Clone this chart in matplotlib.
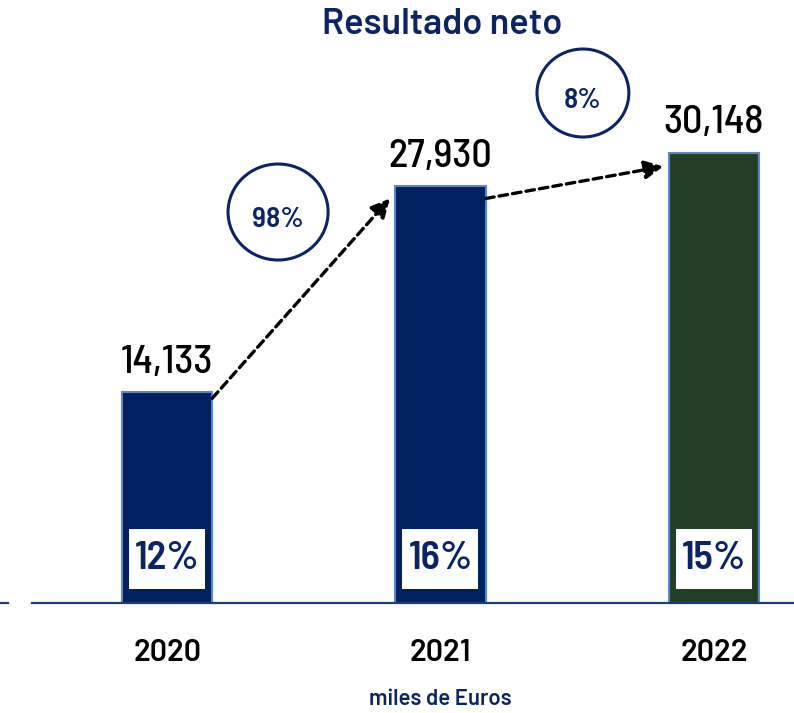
import matplotlib
matplotlib.use('Agg')
import matplotlib.pyplot as plt
from matplotlib.patches import Rectangle, Ellipse
from matplotlib.lines import Line2D

plt.rcParams['font.family'] = ['Barlow Semi Condensed', 'Roboto Condensed', 'DejaVu Sans']
wide = ['Barlow', 'Roboto', 'DejaVu Sans']

years = ['2020', '2021', '2022']
resultado = [14133, 27930, 30148]
margen = ['12%', '16%', '15%']
colores = ['#012060', '#012060', '#233F26']

navy = '#0C2463'
edge = '#5B86C8'

fig = plt.figure(figsize=(7.94, 7.13), dpi=100)
# axes placed so that the baseline sits at y=603px and spans x=32..794px
ax = fig.add_axes([32 / 794, 110 / 713, 762 / 794, 603 / 713])
ax.set_xlim(-0.494, 2.293)
ax.set_ylim(0, 40390)

x = range(len(years))
w = 0.33
ax.bar(x, resultado, width=w, color=colores, edgecolor=edge, linewidth=1.5, zorder=2)

# value labels
for i, v in enumerate(resultado):
    ax.annotate('{:,}'.format(v), (i, v), xytext=(0, 14), textcoords='offset points',
                ha='center', va='baseline', fontsize=29, fontweight=500, color='black')

# margin boxes in the bars
for i, m in enumerate(margen):
    ax.add_patch(Rectangle((i - 0.139, 938), 0.278, 4019, facecolor='white',
                           edgecolor='none', zorder=3))
    ax.text(i, 2947, m, ha='center', va='center', fontsize=29, fontweight=600,
            color=navy, zorder=4)

# growth arrows and circles
circ = [(0.406, 26189, 0.366, 6430), (1.521, 34160, 0.336, 5894)]
for i in range(len(resultado) - 1):
    g = resultado[i + 1] / resultado[i] - 1
    ax.annotate('', xy=(i + 1 - w / 2 - 0.02, resultado[i + 1] * 0.97),
                xytext=(i + w / 2, resultado[i] * 0.97),
                arrowprops=dict(arrowstyle='-|>', linestyle=(0, (2.6, 1.5)), lw=2.4,
                                color='black', mutation_scale=28, shrinkA=0, shrinkB=0),
                zorder=5)
    cx, cy, cw, ch = circ[i]
    ax.add_patch(Ellipse((cx, cy), cw, ch, facecolor='white', edgecolor=navy, lw=2.2, zorder=6))
    ax.text(cx, cy - 500, '{:.0%}'.format(g), ha='center', va='center', fontsize=21,
            fontweight=600, color=navy, zorder=7)

ax.set_xticks(list(x))
ax.set_xticklabels(years, fontsize=22, fontweight=600, family=wide)
ax.tick_params(axis='x', length=0, pad=26)
ax.set_yticks([])
for s in ['top', 'right', 'left']:
    ax.spines[s].set_visible(False)
ax.spines['bottom'].set_color('#1F3C7A')
ax.spines['bottom'].set_linewidth(1.6)

fig.add_artist(Line2D([0, 8 / 794], [110 / 713, 110 / 713], color='#1F3C7A', lw=1.6))

fig.text(442 / 794, 1 - 25 / 713, 'Resultado neto', ha='center', va='center',
         fontsize=26, fontweight=600, color=navy, family=wide)
fig.text(440 / 794, 1 - 699 / 713, 'miles de Euros', ha='center', va='center',
         fontsize=16, fontweight=600, color=navy, family=wide)

fig.savefig('out.png', dpi=100)
